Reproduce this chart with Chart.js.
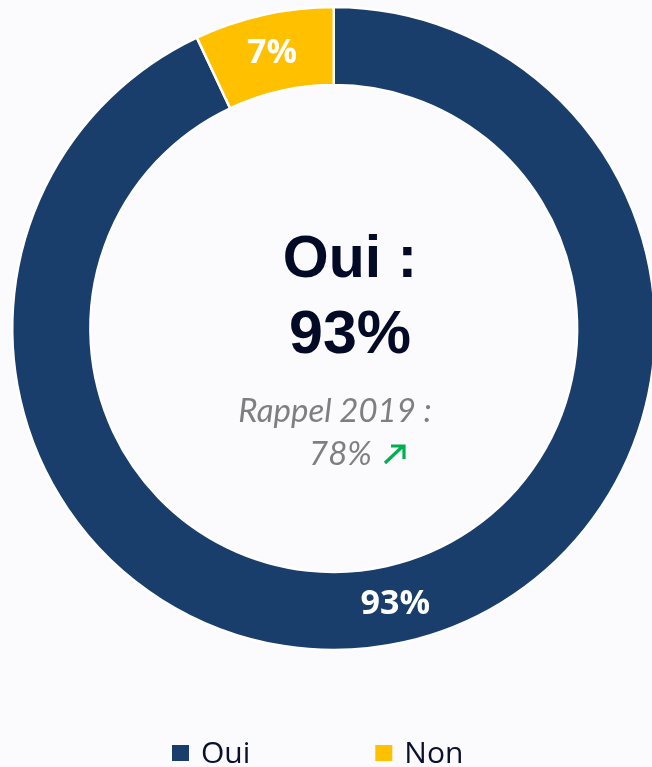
<!DOCTYPE html>
<html>
<head>
<meta charset="utf-8">
<script src="https://cdn.jsdelivr.net/npm/chart.js@4.4.0/dist/chart.umd.min.js"></script>
<style>
  html, body { margin: 0; padding: 0; background: #fbfbfe; overflow: hidden; }
  #wrap { position: absolute; left: 0; top: 0; width: 664px; height: 767px; }
</style>
</head>
<body>
<div id="wrap"><canvas id="c" width="664" height="767"></canvas></div>
<script>
const categories = ['Oui', 'Non'];
const values = [93, 7];
const colors = ['#1a3e6b', '#ffc000'];
const sliceLabels = ['93%', '7%'];
const centerTitle = ['Oui :', '93%'];
const recallLines = ['Rappel 2019 :', '78%'];

const sliceLabelPlugin = {
  id: 'sliceLabels',
  afterDatasetsDraw(chart) {
    const ctx = chart.ctx;
    const meta = chart.getDatasetMeta(0);
    ctx.save();
    ctx.fillStyle = '#ffffff';
    ctx.font = 'bold 34px "Open Sans"';
    ctx.textAlign = 'center';
    ctx.textBaseline = 'middle';
    meta.data.forEach((arc, i) => {
      const p = arc.tooltipPosition();
      ctx.fillText(sliceLabels[i], p.x, p.y);
    });
    ctx.restore();
  }
};

const centerPlugin = {
  id: 'centerText',
  afterDraw(chart) {
    const ctx = chart.ctx;
    ctx.save();
    ctx.textAlign = 'center';
    ctx.textBaseline = 'alphabetic';
    ctx.fillStyle = '#030a26';
    ctx.font = 'bold 59px "Liberation Sans"';
    ctx.fillText(centerTitle[0], 350, 277);
    ctx.font = 'bold 61px "Liberation Sans"';
    ctx.fillText(centerTitle[1], 350, 353);
    ctx.fillStyle = '#7f7f7f';
    ctx.font = 'italic 33px Lato';
    ctx.fillText(recallLines[0], 335, 422);
    ctx.textAlign = 'left';
    ctx.fillText(recallLines[1], 309, 465);
    // arrow
    ctx.strokeStyle = '#00b050';
    ctx.lineWidth = 3.2;
    ctx.beginPath();
    ctx.moveTo(385, 463);
    ctx.lineTo(403, 446);
    ctx.moveTo(391, 446);
    ctx.lineTo(404, 446);
    ctx.lineTo(404, 459);
    ctx.stroke();
    // legend
    ctx.font = '30px "Open Sans"';
    ctx.textBaseline = 'alphabetic';
    let x = 172;
    categories.forEach((cat, i) => {
      ctx.fillStyle = colors[i];
      ctx.fillRect(x, 745, 17, 16);
      ctx.fillStyle = '#0a1030';
      ctx.fillText(cat, x + 29, 763);
      x += 29 + ctx.measureText(cat).width + 125;
    });
    ctx.restore();
  }
};

new Chart(document.getElementById('c'), {
  type: 'doughnut',
  data: {
    labels: categories,
    datasets: [{
      data: values,
      backgroundColor: colors,
      borderColor: '#ffffff',
      borderWidth: 2.5,
      hoverBorderWidth: 2.5
    }]
  },
  options: {
    responsive: false,
    animation: false,
    cutout: '75.7%',
    layout: { padding: { left: 11, right: 7.5, top: 5.5, bottom: 115.5 } },
    plugins: { legend: { display: false }, tooltip: { enabled: false } }
  },
  plugins: [sliceLabelPlugin, centerPlugin]
});
</script>
</body>
</html>
